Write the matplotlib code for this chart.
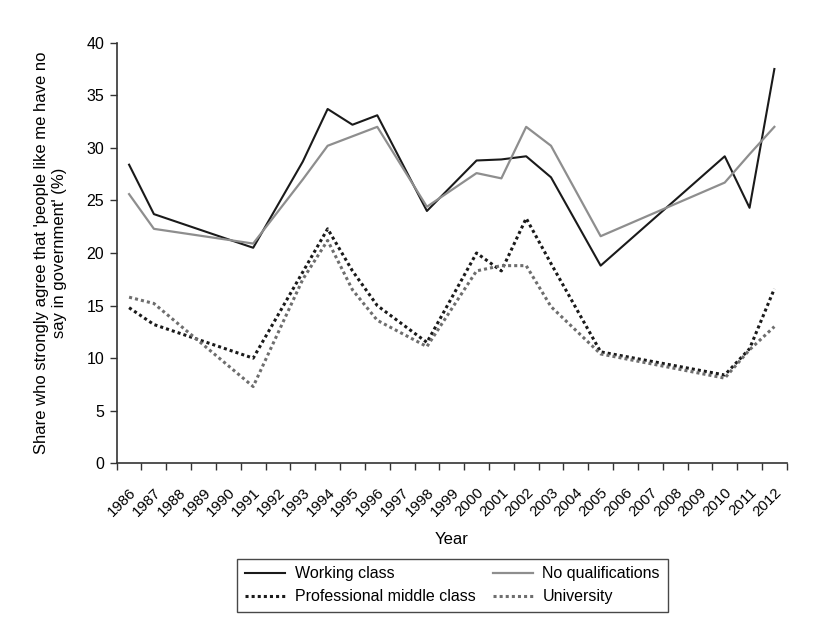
import matplotlib
matplotlib.use("Agg")
import matplotlib.pyplot as plt
import numpy as np

plt.rcParams['font.family'] = ['Liberation Sans', 'DejaVu Sans']

all_years = list(range(1986, 2013))
years = [1986, 1987, 1991, 1993, 1994, 1995, 1996, 1998, 2000, 2001, 2002, 2003, 2005, 2010, 2011, 2012]
working_class = [28.4, 23.7, 20.5, 28.7, 33.7, 32.2, 33.1, 24.0, 28.8, 28.9, 29.2, 27.2, 18.8, 29.2, 24.3, 37.5]
no_qualifications = [25.6, 22.3, 20.9, 27.0, 30.2, 31.1, 32.0, 24.4, 27.6, 27.1, 32.0, 30.2, 21.6, 26.7, 29.4, 32.0]
professional = [14.8, 13.2, 10.0, 18.2, 22.3, 18.3, 15.0, 11.5, 20.0, 18.3, 23.3, 19.0, 10.6, 8.4, 10.9, 16.6]
university = [15.8, 15.2, 7.3, 17.5, 21.2, 16.5, 13.6, 11.1, 18.3, 18.8, 18.8, 14.9, 10.4, 8.1, 10.8, 13.0]

fig = plt.figure(figsize=(8.37, 6.32), dpi=100)
ax = fig.add_axes([0.1394, 0.2669, 0.8006, 0.6655])

xi = [all_years.index(y) for y in years]
l_wc, = ax.plot(xi, working_class, color='#1a1a1a', lw=1.5, label='Working class')
l_nq, = ax.plot(xi, no_qualifications, color='#8e8e8e', lw=1.6, label='No qualifications')
l_pm, = ax.plot(xi, professional, color='#1a1a1a', lw=2.2, ls=(0, (1, 1)), label='Professional middle class')
l_un, = ax.plot(xi, university, color='#6e6e6e', lw=2.2, ls=(0, (1, 1)), label='University')

ax.set_xlim(-0.5, len(all_years) - 0.5)
ax.set_ylim(0, 40)
ax.set_yticks(range(0, 41, 5))
ax.set_xticks(range(len(all_years)))
ax.set_xticklabels([str(y) for y in all_years], rotation=45, ha='right', rotation_mode='anchor', fontsize=10.8)
ax.set_xticks(np.arange(-0.5, len(all_years), 1), minor=True)
ax.tick_params(axis='x', which='major', length=0, pad=16)
ax.tick_params(axis='x', which='minor', length=5, width=1, color='#333333')
ax.tick_params(axis='y', length=5, width=1, color='#333333', labelsize=11.5, pad=4)

for s in ['top', 'right']:
    ax.spines[s].set_visible(False)
for s in ['left', 'bottom']:
    ax.spines[s].set_color('#333333')
    ax.spines[s].set_linewidth(1.2)

ax.set_xlabel('Year', fontsize=12, labelpad=9)
ax.set_ylabel("Share who strongly agree that 'people like me have no\nsay in government' (%)", fontsize=12, labelpad=14)

leg = fig.legend([l_wc, l_pm, l_nq, l_un],
                 ['Working class', 'Professional middle class', 'No qualifications', 'University'],
                 loc='center', bbox_to_anchor=(0.5406, 0.0736), ncol=2, frameon=True,
                 fancybox=False, edgecolor='#1a1a1a', fontsize=11.5, handlelength=2.5,
                 handletextpad=0.6, columnspacing=1.1, borderpad=0.5, labelspacing=0.5)
leg.get_frame().set_linewidth(1.0)

fig.savefig('out.png', dpi=100)
